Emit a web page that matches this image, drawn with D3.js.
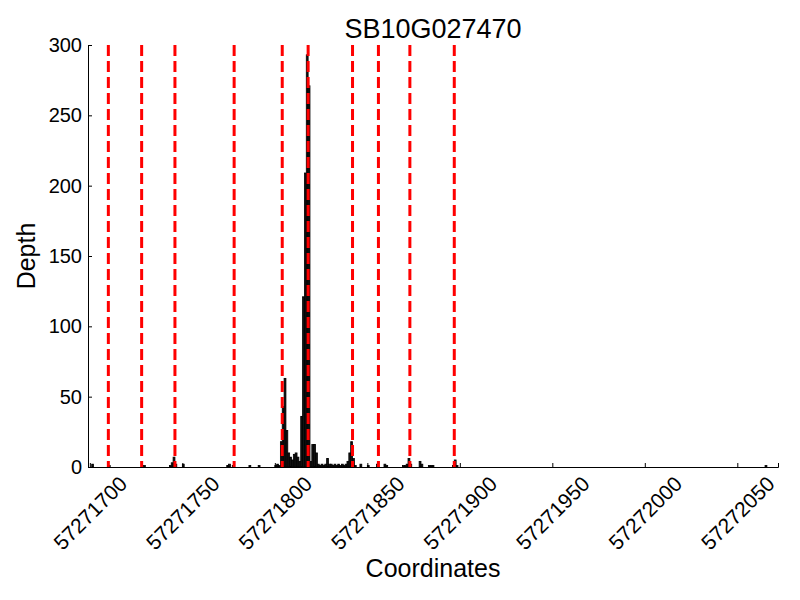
<!DOCTYPE html>
<html>
<head>
<meta charset="utf-8">
<script src="https://cdn.jsdelivr.net/npm/d3@7"></script>
<style>
  body { margin: 0; background: #fff; }
  text { font-family: "Liberation Sans", Arial, sans-serif; fill: #000; }
</style>
</head>
<body>
<div id="chart"></div>
<script>
var title = "SB10G027470";

// coverage depth per coordinate
var coords = [
  57271701, 57271710, 57271729, 57271743, 57271744, 57271745, 57271746, 57271750,
  57271774, 57271775, 57271777, 57271786, 57271791,
  57271800, 57271801, 57271802, 57271803, 57271804, 57271805, 57271806, 57271807,
  57271808, 57271809, 57271810, 57271811, 57271812, 57271813, 57271814, 57271815,
  57271816, 57271817, 57271818, 57271819, 57271820, 57271821, 57271822, 57271823,
  57271824, 57271825, 57271826, 57271827, 57271828, 57271829, 57271830, 57271831,
  57271832, 57271833, 57271834, 57271835, 57271836, 57271837, 57271838, 57271839,
  57271840, 57271841, 57271842, 57271843, 57271846, 57271850, 57271855, 57271859,
  57271860, 57271869, 57271870, 57271871, 57271872, 57271873, 57271878, 57271879,
  57271883, 57271884, 57271885, 57271896, 57271897, 57271898, 57272065
];
var depths = [
  2, 1, 1, 1, 3, 7, 2, 2,
  1, 2, 1, 1, 1,
  1, 2, 1, 18, 43, 63, 26, 10,
  7, 5, 9, 10, 7, 4, 36, 121,
  209, 293, 271, 4, 16, 16, 10, 2,
  1, 2, 1, 2, 6, 2, 2, 1,
  2, 1, 2, 1, 2, 1, 2, 4,
  10, 18, 6, 1, 2, 1, 2, 2,
  1, 1, 1, 2, 6, 2, 4, 2,
  1, 1, 1, 1, 5, 1, 1
];

// exon boundaries (red dashed)
var boundaries = [57271710, 57271728, 57271746, 57271778, 57271804, 57271818,
                  57271842, 57271856, 57271873, 57271897];

var xTicks = [57271700, 57271750, 57271800, 57271850, 57271900, 57271950, 57272000, 57272050];
var yTicks = [0, 50, 100, 150, 200, 250, 300];

var plotLeft = 88, plotRight = 778, plotTop = 45, plotBottom = 467;

var svg = d3.select("#chart")
.append("svg")
.attr("width", 800)
.attr("height", 600);

var x = d3.scaleLinear()
.domain([57271699, 57272072])
.range([plotLeft, plotRight]);

var y = d3.scaleLinear()
.domain([0, 300])
.range([plotBottom, plotTop]);

var unit = x(57271701) - x(57271700);

svg.append("g")
.selectAll("rect")
.data(coords.map(function (c, i) { return {c: c, d: depths[i]}; }))
.enter()
.append("rect")
.attr("x", function (p) { return x(p.c); })
.attr("y", function (p) { return y(p.d); })
.attr("width", unit)
.attr("height", function (p) { return plotBottom - y(p.d); })
.attr("fill", "#111")
.attr("stroke", "#000")
.attr("stroke-width", 0.8);

svg.append("g")
.selectAll("line")
.data(boundaries)
.enter()
.append("line")
.attr("x1", function (b) { return x(b); })
.attr("x2", function (b) { return x(b); })
.attr("y1", plotTop)
.attr("y2", plotBottom)
.attr("stroke", "#ff0000")
.attr("stroke-width", 3)
.attr("stroke-dasharray", "11,5");

// y axis
var yAxis = svg.append("g")
.attr("transform", "translate(" + plotLeft + ",0)")
.call(d3.axisLeft(y).tickValues(yTicks).tickSize(-4).tickPadding(6));
yAxis.select(".domain").attr("stroke", "#000");
yAxis.selectAll("text").style("font-size", "20px");

// x axis
var xAxis = svg.append("g")
.attr("transform", "translate(0," + plotBottom + ")")
.call(d3.axisBottom(x).tickValues(xTicks).tickSize(-4).tickFormat(d3.format("d")));
xAxis.select(".domain").attr("stroke", "#000");
xAxis.selectAll("text")
.style("font-size", "21px")
.attr("text-anchor", "middle")
.attr("y", 0)
.attr("dy", "0.35em")
.attr("transform", "translate(0,46) rotate(-45)");

svg.append("text")
.attr("x", (plotLeft + plotRight) / 2)
.attr("y", 38)
.attr("text-anchor", "middle")
.style("font-size", "27px")
.text(title);

svg.append("text")
.attr("x", (plotLeft + plotRight) / 2)
.attr("y", 577)
.attr("text-anchor", "middle")
.style("font-size", "25px")
.text("Coordinates");

svg.append("text")
.attr("transform", "translate(35," + (plotTop + plotBottom) / 2 + ") rotate(-90)")
.attr("text-anchor", "middle")
.style("font-size", "25px")
.text("Depth");
</script>
</body>
</html>
